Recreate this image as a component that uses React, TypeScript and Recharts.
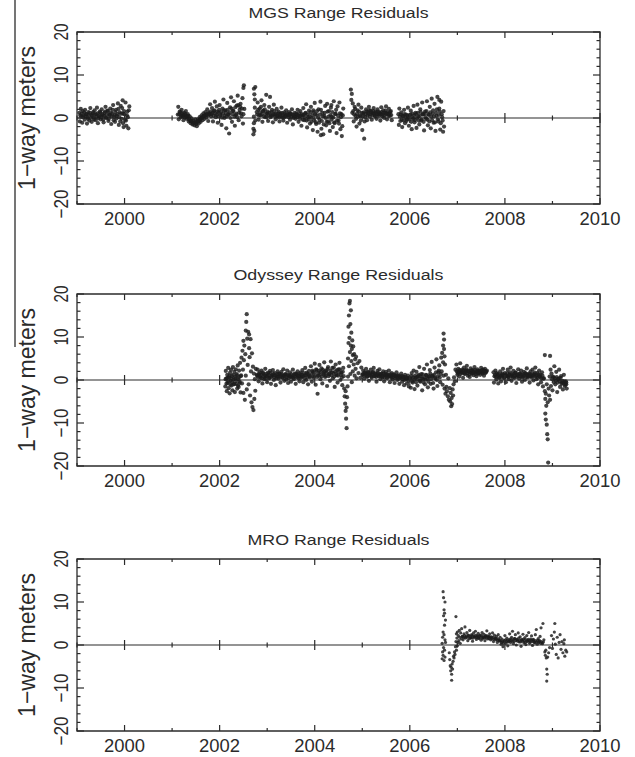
import React from 'react';
import { ScatterChart, Scatter, XAxis, YAxis, ReferenceLine, ReferenceArea } from 'recharts';

type Pt = [number, number];

// tick values
const years = [1999, 2000, 2001, 2002, 2003, 2004, 2005, 2006, 2007, 2008, 2009, 2010];
const yTicks = [-20, -18, -16, -14, -12, -10, -8, -6, -4, -2, 0, 2, 4, 6, 8, 10, 12, 14, 16, 18, 20];

// MGS residuals [year, metres] - scattered points
const mgsSpread: Pt[] = [
  [1999.05,1.2],[1999.06,-0.8],[1999.08,2.1],[1999.09,0.3],[1999.11,-1.1],[1999.12,1.6],[1999.14,0.5],[1999.16,-0.4],[1999.17,1.9],[1999.19,0.9],
  [1999.21,-1.3],[1999.22,0.2],[1999.24,1.4],[1999.26,-0.6],[1999.28,2.3],[1999.3,0.7],[1999.31,-0.9],[1999.33,1.1],[1999.35,0.1],[1999.37,1.8],
  [1999.39,-0.5],[1999.4,0.9],[1999.42,2.4],[1999.44,-1.2],[1999.46,0.4],[1999.48,1.5],[1999.5,-0.3],[1999.52,2.0],[1999.54,0.6],[1999.56,-1.0],
  [1999.58,1.2],[1999.6,2.6],[1999.62,0.0],[1999.64,1.7],[1999.66,-0.7],[1999.68,0.8],[1999.7,2.2],[1999.72,-1.4],[1999.74,1.0],[1999.76,3.0],
  [1999.78,0.3],[1999.8,-0.9],[1999.82,1.9],[1999.84,0.5],[1999.86,3.4],[1999.88,-1.6],[1999.9,1.3],[1999.92,2.8],[1999.94,-0.2],[1999.96,4.1],
  [1999.98,-2.1],[2000.0,0.9],[2000.02,3.6],[2000.04,-1.8],[2000.06,1.5],[2000.08,-2.4],[2000.1,2.7],[2000.07,0.2],[1999.97,1.0],[2000.03,-0.6],
  [2001.12,0.8],[2001.13,2.6],[2001.14,-0.3],[2001.16,1.5],[2001.18,0.2],[2001.2,1.9],[2001.22,0.6],[2001.24,-0.5],[2001.25,1.2],[2001.27,0.1],
  [2001.29,1.6],[2001.31,-0.2],[2001.33,0.9],[2001.35,-0.8],[2001.37,0.4],[2001.39,-1.2],[2001.41,-0.1],[2001.43,-1.5],[2001.45,-0.6],[2001.47,-1.7],
  [2001.49,-0.3],[2001.5,-1.1],[2001.52,-1.9],[2001.54,-0.4],[2001.56,-1.3],[2001.58,0.2],[2001.6,-0.9],[2001.62,0.6],[2001.64,-0.5],[2001.66,1.1],
  [2001.68,-0.2],[2001.7,1.4],[2001.72,0.1],[2001.74,2.0],[2001.76,-0.7],[2001.78,1.0],[2001.8,3.2],[2001.82,0.4],[2001.84,2.3],[2001.86,-0.8],
  [2001.88,1.6],[2001.9,3.8],[2001.92,0.2],[2001.94,2.7],[2001.96,-1.1],[2001.98,1.3],[2002.0,3.0],[2002.02,0.6],[2002.04,-1.6],[2002.06,2.2],
  [2002.08,4.3],[2002.1,0.0],[2002.12,1.8],[2002.14,-2.4],[2002.16,3.5],[2002.18,0.9],[2002.2,-3.6],[2002.22,2.5],[2002.24,4.8],[2002.26,-0.9],
  [2002.28,1.7],[2002.3,3.9],[2002.32,-1.8],[2002.34,0.7],[2002.36,2.9],[2002.38,5.2],[2002.4,-0.5],[2002.42,1.9],[2002.44,3.3],[2002.46,0.4],
  [2002.48,4.6],[2002.5,7.0],[2002.51,7.6],[2002.52,2.1],[2002.49,-1.3],[2002.45,1.1],
  [2002.71,-3.8],[2002.71,-2.5],[2002.72,-1.2],[2002.72,0.3],[2002.72,6.8],[2002.73,5.5],[2002.73,-3.0],[2002.74,2.4],[2002.74,4.3],[2002.75,-0.6],[2002.75,7.2],
  [2002.78,1.4],[2002.8,3.6],[2002.82,-0.4],[2002.84,2.2],[2002.86,0.6],[2002.88,4.1],[2002.9,-0.9],[2002.92,1.7],[2002.94,3.0],[2002.96,0.2],
  [2002.98,5.4],[2003.0,1.1],[2003.02,-0.7],[2003.04,2.6],[2003.06,4.9],[2003.08,0.5],[2003.1,1.9],[2003.12,-1.0],[2003.14,3.1],[2003.16,0.8],
  [2003.18,-0.3],[2003.2,2.1],[2003.22,0.4],[2003.24,1.5],[2003.26,-0.8],[2003.28,1.0],[2003.3,2.4],[2003.32,0.1],[2003.34,-0.6],[2003.36,1.3],
  [2003.38,0.5],[2003.4,1.8],[2003.42,-1.1],[2003.44,0.7],[2003.46,1.4],[2003.48,-0.4],[2003.5,0.9],[2003.52,2.0],[2003.54,-1.5],[2003.56,0.3],
  [2003.58,1.2],[2003.6,-0.2],[2003.62,0.8],[2003.64,1.9],[2003.66,-0.9],[2003.68,0.4],[2003.7,1.6],[2003.72,-1.8],[2003.74,0.6],[2003.76,2.3],
  [2003.78,-0.5],[2003.8,1.1],[2003.82,3.2],[2003.84,-2.2],[2003.86,0.2],[2003.88,1.7],[2003.9,-1.3],[2003.92,2.6],[2003.94,0.0],[2003.96,-2.8],
  [2003.98,1.4],[2004.0,3.5],[2004.02,-1.0],[2004.04,0.7],[2004.06,-3.2],[2004.08,2.0],[2004.1,-0.4],[2004.12,3.8],[2004.14,-2.5],[2004.16,1.2],
  [2004.18,-3.8],[2004.2,0.5],[2004.22,2.8],[2004.24,-1.7],[2004.26,3.3],[2004.28,-0.8],[2004.3,1.6],[2004.32,-3.0],[2004.34,2.4],[2004.36,0.3],
  [2004.38,-2.1],[2004.4,3.9],[2004.42,-1.2],[2004.44,1.0],[2004.46,-3.5],[2004.48,2.7],[2004.5,-0.6],[2004.52,3.6],[2004.54,-2.6],[2004.56,0.9],
  [2004.58,-1.9],[2004.6,2.2],[2004.57,-4.2],[2004.13,-4.0],[2004.35,3.0],
  [2004.76,6.6],[2004.77,4.2],[2004.78,5.6],[2004.79,1.2],[2004.8,3.4],[2004.82,-0.8],[2004.84,2.6],[2004.86,0.5],[2004.88,-2.0],[2004.9,1.8],
  [2004.92,3.1],[2004.94,-1.3],[2004.96,0.4],[2004.98,2.4],[2005.0,-2.8],[2005.02,1.0],[2005.04,-4.8],[2005.06,0.2],[2005.08,2.0],[2005.1,-0.5],
  [2005.12,1.4],[2005.14,2.6],[2005.16,0.3],[2005.18,1.7],[2005.2,-0.4],[2005.22,1.1],[2005.24,2.3],[2005.26,0.6],[2005.28,1.5],[2005.3,-0.2],
  [2005.32,2.0],[2005.34,0.8],[2005.36,1.3],[2005.38,-0.6],[2005.4,2.5],[2005.42,0.4],[2005.44,1.8],[2005.46,0.0],[2005.48,1.2],[2005.5,2.7],
  [2005.52,-0.3],[2005.54,1.0],[2005.56,2.1],[2005.58,0.5],[2005.6,1.6],[2005.62,-0.5],
  [2005.76,0.9],[2005.77,-1.6],[2005.78,2.2],[2005.8,-0.7],[2005.82,1.3],[2005.84,-2.1],[2005.86,0.4],[2005.88,1.9],[2005.9,-1.2],[2005.92,0.8],
  [2005.94,-0.3],[2005.96,2.4],[2005.98,-1.8],[2006.0,0.6],[2006.02,1.7],[2006.04,-2.6],[2006.06,0.1],[2006.08,2.8],[2006.1,-1.0],[2006.12,1.2],
  [2006.14,-2.3],[2006.16,3.1],[2006.18,0.3],[2006.2,-1.5],[2006.22,2.0],[2006.24,-0.6],[2006.26,3.6],[2006.28,0.9],[2006.3,-2.9],[2006.32,1.5],
  [2006.34,-0.2],[2006.36,3.9],[2006.38,-1.7],[2006.4,0.7],[2006.42,2.6],[2006.44,-2.4],[2006.46,4.5],[2006.48,1.0],[2006.5,-1.1],[2006.52,3.3],
  [2006.54,-3.0],[2006.56,0.5],[2006.58,4.9],[2006.6,-0.8],[2006.62,2.2],[2006.64,-2.7],[2006.66,3.8],[2006.68,0.2],[2006.7,-3.2],[2006.71,1.6],
  [2006.72,-2.0],[2006.62,4.2],
];

// MGS residuals [year, metres] - dense core of each pass
const mgsCore: Pt[] = [
  [1999.07,0.6],[1999.1,1.0],[1999.13,0.2],[1999.15,1.3],[1999.18,0.4],[1999.2,0.9],[1999.23,-0.2],[1999.25,0.7],[1999.27,1.2],[1999.29,0.0],
  [1999.32,0.5],[1999.34,1.4],[1999.36,-0.3],[1999.38,0.8],[1999.41,0.3],[1999.43,1.1],[1999.45,-0.1],[1999.47,0.6],[1999.49,1.3],[1999.51,0.2],
  [1999.53,0.9],[1999.55,-0.4],[1999.57,0.5],[1999.59,1.5],[1999.61,0.1],[1999.63,0.8],[1999.65,1.6],[1999.67,-0.2],[1999.69,0.6],[1999.71,1.2],
  [1999.73,0.3],[1999.75,1.9],[1999.77,-0.5],[1999.79,0.7],[1999.81,1.4],[1999.83,-0.1],[1999.85,0.9],[1999.87,2.1],[1999.89,0.2],[1999.91,-0.8],
  [1999.93,1.0],[1999.95,2.3],[1999.97,-1.2],[1999.99,1.6],[2000.01,-0.4],[2000.05,0.6],[2000.09,1.8],
  [2001.15,0.9],[2001.17,1.3],[2001.19,0.5],[2001.21,1.1],[2001.23,0.3],[2001.26,0.7],[2001.28,0.9],[2001.3,0.4],[2001.32,0.2],[2001.34,0.5],
  [2001.36,-0.3],[2001.38,-0.6],[2001.4,-0.8],[2001.42,-0.9],[2001.44,-1.1],[2001.46,-1.2],[2001.48,-1.0],[2001.51,-1.4],[2001.53,-0.9],[2001.55,-0.8],
  [2001.57,-0.6],[2001.59,-0.3],[2001.61,-0.1],[2001.63,0.1],[2001.65,0.3],[2001.67,0.5],[2001.69,0.6],[2001.71,0.7],[2001.73,0.9],[2001.75,0.6],
  [2001.77,1.2],[2001.79,0.8],[2001.81,1.5],[2001.83,0.9],[2001.85,1.2],[2001.87,0.5],[2001.89,1.8],[2001.91,1.1],[2001.93,0.7],[2001.95,1.5],
  [2001.97,0.4],[2001.99,1.9],[2002.01,0.8],[2002.03,1.4],[2002.05,0.1],[2002.07,1.0],[2002.09,1.8],[2002.11,0.5],[2002.13,1.2],[2002.15,0.3],
  [2002.17,1.9],[2002.19,0.7],[2002.21,1.3],[2002.23,0.0],[2002.25,2.2],[2002.27,0.9],[2002.29,1.6],[2002.31,0.3],[2002.33,2.5],[2002.35,1.0],
  [2002.37,0.2],[2002.39,3.0],[2002.41,1.2],[2002.43,2.6],[2002.47,2.2],[2002.5,0.9],
  [2002.79,0.8],[2002.81,1.9],[2002.83,0.6],[2002.85,1.3],[2002.87,2.6],[2002.89,0.9],[2002.91,1.6],[2002.93,0.4],[2002.95,2.0],[2002.97,1.1],
  [2002.99,0.3],[2003.01,1.5],[2003.03,0.7],[2003.05,1.2],[2003.07,0.2],[2003.09,1.4],[2003.11,0.6],[2003.13,0.9],[2003.15,1.6],[2003.17,0.3],
  [2003.19,1.0],[2003.21,0.5],[2003.23,1.1],[2003.25,0.2],[2003.27,0.8],[2003.29,0.4],[2003.31,1.2],[2003.33,0.6],[2003.35,0.1],[2003.37,0.9],
  [2003.39,0.3],[2003.41,0.7],[2003.43,1.0],[2003.45,0.2],[2003.47,0.6],[2003.49,1.1],[2003.51,0.3],[2003.53,0.8],[2003.55,0.0],[2003.57,0.7],
  [2003.59,0.4],[2003.61,1.0],[2003.63,0.2],[2003.65,0.6],[2003.67,1.1],[2003.69,-0.2],[2003.71,0.5],[2003.73,0.9],[2003.75,-0.4],[2003.77,0.7],
  [2003.79,0.2],[2003.81,1.2],[2003.83,-0.6],[2003.85,0.8],[2003.87,-0.3],[2003.89,0.4],[2003.91,1.3],[2003.93,-0.9],[2003.95,0.6],[2003.97,1.8],
  [2003.99,-0.5],[2004.01,0.9],[2004.03,-1.4],[2004.05,1.6],[2004.07,0.1],[2004.09,-1.1],[2004.11,0.8],[2004.13,1.9],[2004.15,-0.7],[2004.17,0.4],
  [2004.19,-1.5],[2004.21,1.2],[2004.23,0.0],[2004.25,-0.9],[2004.27,1.5],[2004.29,0.3],[2004.31,-1.2],[2004.33,0.7],[2004.35,-0.4],[2004.37,1.4],
  [2004.39,0.1],[2004.41,-1.0],[2004.43,0.9],[2004.45,1.9],[2004.47,-0.6],[2004.49,0.5],[2004.51,-1.3],[2004.53,1.1],[2004.55,0.2],[2004.59,0.6],
  [2004.81,1.6],[2004.83,0.8],[2004.85,2.1],[2004.87,-0.2],[2004.89,1.0],[2004.91,0.3],[2004.93,1.5],[2004.95,0.6],[2004.97,-0.6],[2004.99,1.2],
  [2005.01,0.4],[2005.03,1.3],[2005.05,-0.8],[2005.07,0.9],[2005.09,1.5],[2005.11,0.6],[2005.13,1.0],[2005.15,1.8],[2005.17,0.9],[2005.19,1.3],
  [2005.21,0.7],[2005.23,1.6],[2005.25,1.0],[2005.27,0.4],[2005.29,1.2],[2005.31,0.8],[2005.33,1.5],[2005.35,0.5],[2005.37,1.1],[2005.39,0.9],
  [2005.41,1.4],[2005.43,0.7],[2005.45,1.2],[2005.47,0.6],[2005.49,1.7],[2005.51,0.9],[2005.53,1.3],[2005.55,0.5],[2005.57,1.0],[2005.59,1.4],
  [2005.61,0.7],
  [2005.79,0.3],[2005.81,0.8],[2005.83,-0.4],[2005.85,0.5],[2005.87,-0.6],[2005.89,0.9],[2005.91,0.1],[2005.93,-0.7],[2005.95,0.6],[2005.97,0.2],
  [2005.99,-0.3],[2006.01,0.8],[2006.03,-0.9],[2006.05,1.0],[2006.07,-0.2],[2006.09,0.6],[2006.11,-0.5],[2006.13,0.9],[2006.15,0.0],[2006.17,1.2],
  [2006.19,-0.6],[2006.21,0.5],[2006.23,1.4],[2006.25,-0.3],[2006.27,0.8],[2006.29,-0.9],[2006.31,1.0],[2006.33,0.2],[2006.35,1.6],[2006.37,-0.4],
  [2006.39,0.9],[2006.41,-0.8],[2006.43,1.3],[2006.45,0.3],[2006.47,-0.5],[2006.49,1.8],[2006.51,0.4],[2006.53,-1.0],[2006.55,1.2],[2006.57,2.0],
  [2006.59,-0.3],[2006.61,0.7],[2006.63,1.5],[2006.65,-1.2],[2006.67,0.9],[2006.69,-0.6],
];

// Odyssey residuals [year, metres] - scattered points
const odysseySpread: Pt[] = [
  [2002.12,-1.5],[2002.13,2.1],[2002.14,0.3],[2002.15,-2.6],[2002.16,1.2],[2002.17,-0.7],[2002.18,2.8],[2002.19,-1.9],[2002.2,0.6],[2002.21,-3.1],
  [2002.22,1.7],[2002.23,-0.2],[2002.24,2.4],[2002.25,-1.3],[2002.26,0.9],[2002.27,-2.4],[2002.28,3.0],[2002.29,0.1],[2002.3,-1.0],[2002.31,1.9],
  [2002.32,-2.8],[2002.33,0.7],[2002.34,2.5],[2002.35,-0.9],[2002.36,1.4],[2002.37,-2.0],[2002.38,3.4],[2002.39,0.2],[2002.4,-1.6],[2002.41,2.2],
  [2002.42,-0.4],[2002.43,4.0],[2002.44,-2.9],[2002.45,1.1],
  [2002.46,5.2],[2002.47,-0.8],[2002.48,6.8],[2002.49,2.4],[2002.5,9.1],[2002.5,-3.0],[2002.51,4.6],[2002.52,8.0],[2002.53,-4.6],[2002.54,6.0],
  [2002.55,11.5],[2002.55,1.0],[2002.56,13.5],[2002.57,15.3],[2002.57,-2.2],[2002.58,9.6],[2002.59,3.5],[2002.6,11.2],[2002.61,-1.0],[2002.62,10.6],
  [2002.62,7.4],[2002.63,5.3],[2002.64,-3.6],[2002.65,9.5],[2002.66,2.0],[2002.67,-5.2],[2002.68,6.2],[2002.69,-6.3],[2002.7,3.1],[2002.71,-7.0],
  [2002.72,1.5],[2002.73,-4.4],[2002.74,0.2],[2002.75,-2.5],[2002.76,2.6],
  [2002.78,1.2],[2002.8,2.4],[2002.82,-0.3],[2002.84,1.8],[2002.86,0.5],[2002.88,2.2],[2002.9,-0.8],[2002.92,1.5],[2002.94,0.2],[2002.96,2.6],
  [2002.98,0.9],[2003.0,-0.5],[2003.02,1.7],[2003.04,0.4],[2003.06,2.1],[2003.08,-0.9],[2003.1,1.1],[2003.12,2.3],[2003.14,0.0],[2003.16,1.6],
  [2003.18,-1.2],[2003.2,0.8],[2003.22,2.0],[2003.24,0.3],[2003.26,1.4],[2003.28,-0.6],[2003.3,1.9],[2003.32,0.6],[2003.34,2.5],[2003.36,-0.2],
  [2003.38,1.3],[2003.4,0.1],[2003.42,2.2],[2003.44,-0.7],[2003.46,1.0],[2003.48,1.8],[2003.5,-0.4],[2003.52,0.7],[2003.54,2.4],[2003.56,0.2],
  [2003.58,1.5],[2003.6,-0.9],[2003.62,1.2],[2003.64,2.0],[2003.66,0.4],[2003.68,-0.3],[2003.7,1.7],[2003.72,0.8],[2003.74,2.3],[2003.76,-0.5],
  [2003.78,1.1],[2003.8,2.8],[2003.82,0.0],[2003.84,1.5],[2003.86,-1.0],[2003.88,2.1],[2003.9,0.6],
  [2003.92,3.2],[2003.94,-0.4],[2003.96,1.9],[2003.98,0.5],[2004.0,3.8],[2004.02,-1.1],[2004.04,2.3],[2004.06,-3.2],[2004.08,1.0],[2004.1,3.5],
  [2004.12,0.2],[2004.14,2.7],[2004.16,-0.8],[2004.18,1.6],[2004.2,4.1],[2004.22,0.7],[2004.24,2.2],[2004.26,-1.4],[2004.28,3.0],[2004.3,1.3],
  [2004.32,-0.2],[2004.34,4.3],[2004.36,1.8],[2004.38,0.4],[2004.4,2.9],[2004.42,-1.6],[2004.44,3.6],[2004.46,1.1],[2004.48,-0.6],[2004.5,2.5],
  [2004.52,4.0],[2004.54,0.0],[2004.56,1.7],[2004.58,-1.2],[2004.6,2.8],[2004.62,-2.0],
  [2004.63,-3.8],[2004.64,-5.5],[2004.65,-7.2],[2004.65,-2.6],[2004.66,-9.0],[2004.67,-11.2],[2004.67,-6.4],[2004.68,-4.0],[2004.69,-1.5],[2004.7,0.8],
  [2004.7,5.0],[2004.71,8.6],[2004.71,12.4],[2004.72,15.0],[2004.72,3.2],[2004.73,17.8],[2004.73,9.8],[2004.74,18.4],[2004.74,6.5],[2004.75,13.0],
  [2004.75,1.4],[2004.76,16.2],[2004.76,8.0],[2004.77,11.0],[2004.77,4.4],[2004.78,7.2],[2004.78,-0.5],[2004.79,9.2],[2004.8,5.8],[2004.8,2.0],
  [2004.81,7.8],[2004.82,3.6],[2004.83,6.0],[2004.84,1.0],[2004.85,4.8],[2004.86,2.6],[2004.87,5.4],[2004.88,0.4],[2004.9,3.9],[2004.92,1.6],
  [2004.94,4.4],[2004.96,0.5],[2004.98,2.9],[2005.0,1.2],
  [2005.02,2.2],[2005.04,0.3],[2005.06,1.6],[2005.08,2.6],[2005.1,0.7],[2005.12,1.9],[2005.14,-0.2],[2005.16,1.3],[2005.18,2.4],[2005.2,0.5],
  [2005.22,1.7],[2005.24,2.8],[2005.26,0.9],[2005.28,1.4],[2005.3,-0.4],[2005.32,2.1],[2005.34,1.0],[2005.36,2.5],[2005.38,0.2],[2005.4,1.5],
  [2005.42,0.6],[2005.44,2.0],[2005.46,-0.3],[2005.48,1.2],[2005.5,1.9],[2005.52,0.4],[2005.54,1.1],[2005.56,2.2],[2005.58,-0.5],[2005.6,0.8],
  [2005.62,1.6],[2005.64,0.1],[2005.66,1.3],[2005.68,-0.7],[2005.7,0.9],[2005.72,1.8],[2005.74,0.0],[2005.76,1.1],[2005.78,-0.9],[2005.8,0.6],
  [2005.82,1.5],[2005.84,-0.4],[2005.86,0.8],[2005.88,-1.2],[2005.9,1.2],[2005.92,0.3],[2005.94,-0.8],[2005.96,1.0],[2005.98,-1.5],[2006.0,0.4],
  [2006.02,-1.8],[2006.04,1.6],[2006.06,-0.6],[2006.08,2.2],[2006.1,-2.1],[2006.12,0.5],[2006.14,1.9],[2006.16,-1.3],[2006.18,0.9],[2006.2,3.0],
  [2006.22,-0.4],[2006.24,1.4],[2006.26,-2.4],[2006.28,0.2],[2006.3,2.6],[2006.32,-1.0],[2006.34,1.2],[2006.36,3.6],[2006.38,-1.7],[2006.4,0.7],
  [2006.42,2.3],[2006.44,-0.9],[2006.46,4.2],[2006.48,1.0],[2006.5,-2.0],[2006.52,2.9],[2006.54,0.3],[2006.56,4.8],[2006.58,-1.4],[2006.6,1.8],
  [2006.62,3.4],[2006.64,-0.5],[2006.66,5.2],
  [2006.67,2.0],[2006.68,6.3],[2006.69,-1.1],[2006.7,8.0],[2006.7,4.1],[2006.71,10.8],[2006.71,1.0],[2006.72,9.4],[2006.72,7.2],[2006.73,5.5],
  [2006.73,-2.0],[2006.74,3.6],[2006.75,-3.2],[2006.76,1.2],[2006.77,-1.6],[2006.78,-2.6],[2006.8,-3.8],[2006.81,0.4],[2006.82,-4.6],[2006.84,-1.9],
  [2006.85,-5.0],[2006.86,-3.0],[2006.87,-6.1],[2006.88,-4.2],[2006.89,-5.6],[2006.9,-2.2],[2006.91,-3.6],[2006.92,-1.0],[2006.93,0.6],[2006.95,-0.3],
  [2006.96,2.4],
  [2006.98,3.6],[2007.0,1.2],[2007.02,2.6],[2007.04,0.8],[2007.06,3.9],[2007.08,1.7],[2007.1,2.4],[2007.12,0.5],[2007.14,2.9],[2007.16,1.4],
  [2007.18,2.2],[2007.2,3.3],[2007.22,1.0],[2007.24,2.0],[2007.26,0.7],[2007.28,2.7],[2007.3,1.6],[2007.32,2.3],[2007.34,1.1],[2007.36,3.0],
  [2007.38,1.8],[2007.4,0.9],[2007.42,2.5],[2007.44,1.5],[2007.46,2.1],[2007.48,1.2],[2007.5,2.8],[2007.52,1.7],[2007.54,2.4],[2007.56,1.0],
  [2007.58,2.6],[2007.6,1.9],[2007.62,2.2],
  [2007.76,1.8],[2007.77,-0.6],[2007.78,0.9],[2007.8,2.2],[2007.82,0.1],[2007.84,1.4],[2007.86,-0.8],[2007.88,0.6],[2007.9,2.0],[2007.92,-0.3],
  [2007.94,1.2],[2007.96,2.6],[2007.98,0.4],[2008.0,1.6],[2008.02,-0.5],[2008.04,0.9],[2008.06,2.4],[2008.08,0.2],[2008.1,1.3],[2008.12,2.9],
  [2008.14,-0.2],[2008.16,1.0],[2008.18,2.1],[2008.2,0.5],[2008.22,1.7],[2008.24,-0.7],[2008.26,1.1],[2008.28,2.5],[2008.3,0.3],[2008.32,1.5],
  [2008.34,2.2],[2008.36,-0.4],[2008.38,0.8],[2008.4,1.9],[2008.42,0.0],[2008.44,1.4],[2008.46,2.7],[2008.48,0.6],[2008.5,1.2],[2008.52,-0.6],
  [2008.54,2.0],[2008.56,0.9],[2008.58,2.4],[2008.6,-0.1],[2008.62,1.3],[2008.64,2.9],[2008.66,0.2],[2008.68,1.6],[2008.7,-1.0],[2008.72,2.2],
  [2008.74,0.7],[2008.76,-0.5],[2008.78,1.8],[2008.8,-1.5],[2008.82,0.4],
  [2008.84,5.8],[2008.84,-2.6],[2008.85,-4.4],[2008.85,-7.8],[2008.86,-9.2],[2008.86,-3.2],[2008.87,-6.0],[2008.88,-10.4],[2008.88,-1.0],[2008.89,-12.6],
  [2008.9,-13.8],[2008.9,-5.2],[2008.91,-19.2],[2008.92,-2.0],[2008.93,-3.6],[2008.94,0.8],[2008.95,5.6],[2008.95,-4.6],[2008.96,2.4],[2008.97,-1.4],
  [2008.98,1.5],[2009.0,-2.4],[2009.02,0.6],[2009.04,3.2],[2009.06,-1.0],[2009.08,1.9],[2009.1,-2.8],[2009.12,0.2],[2009.14,2.4],[2009.16,-1.6],
  [2009.18,0.9],[2009.2,-0.6],[2009.22,-2.2],[2009.24,1.2],[2009.26,-1.4],[2009.28,-0.3],[2009.3,-2.0],[2009.29,-1.0],
];

// Odyssey residuals [year, metres] - dense core of each pass
const odysseyCore: Pt[] = [
  [2002.125,0.2],[2002.145,-0.8],[2002.165,0.5],[2002.185,-0.3],[2002.205,1.0],[2002.225,-1.1],[2002.245,0.4],[2002.265,-0.5],[2002.285,1.2],[2002.305,-0.9],
  [2002.325,0.3],[2002.345,-0.2],[2002.365,1.1],[2002.385,-1.3],[2002.405,0.6],[2002.425,-0.7],[2002.445,0.9],
  [2002.79,1.0],[2002.81,0.6],[2002.83,1.4],[2002.85,0.9],[2002.87,1.2],[2002.89,0.4],[2002.91,1.7],[2002.93,0.8],[2002.95,1.1],[2002.97,0.3],
  [2002.99,1.5],[2003.01,0.9],[2003.03,1.2],[2003.05,0.5],[2003.07,1.6],[2003.09,0.7],[2003.11,1.0],[2003.13,1.4],[2003.15,0.6],[2003.17,1.1],
  [2003.19,0.4],[2003.21,1.3],[2003.23,0.8],[2003.25,1.5],[2003.27,0.7],[2003.29,1.0],[2003.31,1.3],[2003.33,0.5],[2003.35,1.1],[2003.37,0.8],
  [2003.39,1.4],[2003.41,0.6],[2003.43,1.2],[2003.45,0.4],[2003.47,1.0],[2003.49,0.7],[2003.51,1.3],[2003.53,0.9],[2003.55,0.5],[2003.57,1.2],
  [2003.59,0.8],[2003.61,1.5],[2003.63,0.6],[2003.65,1.1],[2003.67,0.9],[2003.69,1.4],[2003.71,0.5],[2003.73,1.2],[2003.75,0.8],[2003.77,1.6],
  [2003.79,0.4],[2003.81,1.1],[2003.83,1.7],[2003.85,0.7],[2003.87,1.3],[2003.89,0.9],
  [2003.93,1.4],[2003.95,2.2],[2003.97,0.9],[2003.99,1.8],[2004.01,1.1],[2004.03,2.5],[2004.05,0.7],[2004.07,1.6],[2004.09,2.1],[2004.11,1.2],
  [2004.13,1.9],[2004.15,0.8],[2004.17,2.4],[2004.19,1.3],[2004.21,2.0],[2004.23,1.0],[2004.25,1.7],[2004.27,2.6],[2004.29,0.9],[2004.31,1.5],
  [2004.33,2.2],[2004.35,1.1],[2004.37,2.8],[2004.39,1.6],[2004.41,0.8],[2004.43,2.0],[2004.45,1.4],[2004.47,2.3],[2004.49,1.0],[2004.51,1.8],
  [2004.53,2.5],[2004.55,1.2],[2004.57,0.6],[2004.59,1.9],[2004.61,0.9],
  [2005.01,1.4],[2005.03,1.0],[2005.05,1.8],[2005.07,1.2],[2005.09,1.5],[2005.11,0.9],[2005.13,1.7],[2005.15,1.1],[2005.17,1.6],[2005.19,0.8],
  [2005.21,1.3],[2005.23,1.9],[2005.25,1.0],[2005.27,1.5],[2005.29,0.7],[2005.31,1.2],[2005.33,1.6],[2005.35,0.9],[2005.37,1.4],[2005.39,1.0],
  [2005.41,1.3],[2005.43,0.8],[2005.45,1.5],[2005.47,0.6],[2005.49,1.1],[2005.51,1.4],[2005.53,0.7],[2005.55,1.2],[2005.57,0.9],[2005.59,1.3],
  [2005.61,0.5],[2005.63,1.0],[2005.65,0.7],[2005.67,1.2],[2005.69,0.4],[2005.71,0.9],[2005.73,0.6],[2005.75,1.0],[2005.77,0.3],[2005.79,0.8],
  [2005.81,0.5],[2005.83,0.9],[2005.85,0.2],[2005.87,0.6],[2005.89,0.0],[2005.91,0.7],[2005.93,0.3],[2005.95,0.5],[2005.97,-0.2],[2005.99,0.4],
  [2006.01,0.3],[2006.03,0.9],[2006.05,-0.3],[2006.07,0.6],[2006.09,0.1],[2006.11,1.0],[2006.13,-0.5],[2006.15,0.7],[2006.17,0.2],[2006.19,1.2],
  [2006.21,-0.2],[2006.23,0.8],[2006.25,0.4],[2006.27,1.3],[2006.29,-0.6],[2006.31,0.6],[2006.33,0.1],[2006.35,1.1],[2006.37,0.3],[2006.39,-0.4],
  [2006.41,0.9],[2006.43,1.5],[2006.45,0.2],[2006.47,0.8],[2006.49,-0.7],[2006.51,1.2],[2006.53,0.5],[2006.55,1.8],[2006.57,0.0],[2006.59,0.9],
  [2006.61,2.2],[2006.63,0.6],[2006.65,1.4],
  [2006.99,2.0],[2007.01,1.6],[2007.03,1.9],[2007.05,2.3],[2007.07,1.4],[2007.09,2.0],[2007.11,1.7],[2007.13,2.2],[2007.15,1.5],[2007.17,1.9],
  [2007.19,2.4],[2007.21,1.6],[2007.23,2.1],[2007.25,1.3],[2007.27,1.8],[2007.29,2.2],[2007.31,1.5],[2007.33,2.0],[2007.35,1.7],[2007.37,2.3],
  [2007.39,1.4],[2007.41,1.9],[2007.43,2.1],[2007.45,1.6],[2007.47,2.0],[2007.49,1.8],[2007.51,2.2],[2007.53,1.5],[2007.55,1.9],[2007.57,2.1],
  [2007.59,1.6],[2007.61,1.9],
  [2007.79,1.2],[2007.81,0.7],[2007.83,1.6],[2007.85,0.9],[2007.87,1.3],[2007.89,0.5],[2007.91,1.1],[2007.93,0.8],[2007.95,1.5],[2007.97,1.0],
  [2007.99,0.6],[2008.01,1.2],[2008.03,0.9],[2008.05,1.6],[2008.07,0.7],[2008.09,1.1],[2008.11,1.8],[2008.13,0.8],[2008.15,1.3],[2008.17,0.6],
  [2008.19,1.4],[2008.21,1.0],[2008.23,1.7],[2008.25,0.7],[2008.27,1.2],[2008.29,0.9],[2008.31,1.5],[2008.33,0.8],[2008.35,1.2],[2008.37,0.6],
  [2008.39,1.4],[2008.41,1.0],[2008.43,1.6],[2008.45,0.7],[2008.47,1.3],[2008.49,0.9],[2008.51,1.5],[2008.53,0.8],[2008.55,1.2],[2008.57,0.6],
  [2008.59,1.4],[2008.61,1.0],[2008.63,1.7],[2008.65,0.8],[2008.67,1.1],[2008.69,0.5],[2008.71,1.3],[2008.73,0.9],[2008.75,1.2],[2008.77,0.4],
  [2008.79,1.0],[2008.81,0.3],
  [2008.99,0.2],[2009.01,0.8],[2009.03,-0.5],[2009.05,0.4],[2009.07,-0.2],[2009.09,0.7],[2009.11,-0.6],[2009.13,0.3],[2009.15,-0.3],[2009.17,0.5],
  [2009.19,-0.9],[2009.21,-0.2],[2009.23,-0.8],[2009.25,-0.4],[2009.27,-1.1],[2009.29,-0.6],
];

// MRO residuals [year, metres] - scattered points
const mroSpread: Pt[] = [
  [2006.68,-3.2],[2006.68,0.4],[2006.69,1.8],[2006.69,-1.6],[2006.7,3.0],[2006.7,-2.4],[2006.7,12.4],[2006.71,6.8],[2006.71,-0.6],[2006.71,11.0],
  [2006.72,8.2],[2006.72,2.4],[2006.72,-3.6],[2006.73,7.4],[2006.73,4.6],[2006.73,-1.2],[2006.74,10.0],[2006.74,1.2],[2006.74,-2.8],[2006.75,0.6],
  [2006.75,5.8],
  [2006.83,-1.8],[2006.84,-3.4],[2006.85,-4.8],[2006.86,-6.0],[2006.87,-5.2],[2006.88,-8.2],[2006.88,-6.8],[2006.89,-4.4],[2006.9,-5.6],[2006.91,-3.8],
  [2006.92,-2.6],[2006.93,-3.0],[2006.94,-1.6],[2006.95,-2.2],[2006.96,-0.4],
  [2006.97,6.6],[2006.97,0.8],[2006.98,2.6],[2006.98,-1.2],[2006.99,1.6],[2007.0,-0.2],[2007.0,3.0],[2007.01,0.6],[2007.02,2.2],[2007.03,1.0],
  [2007.04,3.4],[2007.05,1.8],[2007.06,0.4],[2007.07,2.8],[2007.08,1.4],[2007.09,3.8],[2007.1,2.0],
  [2007.12,1.2],[2007.14,2.6],[2007.16,4.2],[2007.18,1.8],[2007.2,2.9],[2007.22,1.0],[2007.24,2.2],[2007.26,3.4],[2007.28,1.6],[2007.3,2.4],
  [2007.32,0.9],[2007.34,2.8],[2007.36,1.9],[2007.38,3.2],[2007.4,1.3],[2007.42,2.1],[2007.44,2.7],[2007.46,1.5],[2007.48,2.3],[2007.5,1.1],
  [2007.52,2.9],[2007.54,1.7],[2007.56,2.5],[2007.58,1.0],[2007.6,2.2],[2007.62,3.3],[2007.64,1.4],[2007.66,2.0],[2007.68,2.6],[2007.7,1.2],
  [2007.72,1.9],[2007.74,2.8],[2007.76,0.8],[2007.78,2.3],[2007.8,1.5],[2007.82,2.0],[2007.84,0.6],[2007.86,2.4],[2007.88,1.1],[2007.9,1.8],
  [2007.92,0.2],[2007.94,1.4],[2007.96,-0.4],[2007.98,1.0],[2008.0,2.2],[2008.02,0.4],[2008.04,1.6],[2008.06,-0.2],[2008.08,0.9],[2008.1,2.6],
  [2008.12,0.6],[2008.14,1.8],[2008.16,3.2],[2008.18,0.3],[2008.2,1.5],[2008.22,2.4],[2008.24,0.0],[2008.26,1.2],[2008.28,2.8],[2008.3,0.7],
  [2008.32,1.9],[2008.34,-0.3],[2008.36,1.1],[2008.38,2.5],[2008.4,0.5],[2008.42,1.7],[2008.44,0.1],[2008.46,2.2],[2008.48,1.0],[2008.5,2.9],
  [2008.52,0.4],[2008.54,1.4],[2008.56,2.1],[2008.58,-0.1],[2008.6,1.3],[2008.62,0.6],[2008.64,2.4],[2008.66,3.6],[2008.68,0.2],[2008.7,1.5],
  [2008.72,0.8],[2008.74,2.0],[2008.76,4.0],[2008.78,0.5],[2008.8,5.0],[2008.82,1.2],
  [2008.84,-1.6],[2008.85,-2.4],[2008.86,-1.2],[2008.87,-3.0],[2008.88,-5.6],[2008.88,-8.4],[2008.89,-6.8],[2008.9,-2.8],[2008.92,-1.8],[2008.94,-0.6],
  [2008.98,2.2],[2009.0,-0.8],[2009.02,1.4],[2009.04,3.0],[2009.05,5.0],[2009.06,0.2],[2009.08,-2.2],[2009.1,1.8],[2009.12,-3.0],[2009.14,0.6],
  [2009.16,2.4],[2009.18,-1.0],[2009.2,0.8],[2009.22,-1.8],[2009.24,0.3],[2009.26,-2.6],[2009.28,-1.2],[2009.3,-1.6],[2009.25,1.2],
];

// MRO residuals [year, metres] - dense core
const mroCore: Pt[] = [
  [2007.11,2.0],[2007.13,1.7],[2007.15,2.2],[2007.17,1.6],[2007.19,2.1],[2007.21,1.8],[2007.23,2.3],[2007.25,1.5],[2007.27,2.0],[2007.29,1.7],
  [2007.31,2.2],[2007.33,1.6],[2007.35,2.1],[2007.37,1.8],[2007.39,2.3],[2007.41,1.7],[2007.43,2.0],[2007.45,1.6],[2007.47,2.1],[2007.49,1.8],
  [2007.51,2.2],[2007.53,1.5],[2007.55,1.9],[2007.57,1.7],[2007.59,2.0],[2007.61,1.6],[2007.63,2.1],[2007.65,1.8],[2007.67,1.5],[2007.69,1.9],
  [2007.71,1.6],[2007.73,1.4],[2007.75,1.8],[2007.77,1.3],[2007.79,1.6],[2007.81,1.2],[2007.83,1.5],[2007.85,1.1],[2007.87,1.4],[2007.89,0.9],
  [2007.91,1.0],[2007.93,0.6],[2007.95,0.8],[2007.97,0.4],[2007.99,0.9],[2008.01,1.2],[2008.03,0.8],[2008.05,1.1],[2008.07,0.7],[2008.09,1.3],
  [2008.11,1.0],[2008.13,1.4],[2008.15,0.9],[2008.17,1.2],[2008.19,0.8],[2008.21,1.5],[2008.23,1.0],[2008.25,1.3],[2008.27,0.9],[2008.29,1.6],
  [2008.31,1.1],[2008.33,0.7],[2008.35,1.3],[2008.37,0.9],[2008.39,1.4],[2008.41,1.0],[2008.43,0.6],[2008.45,1.2],[2008.47,0.8],[2008.49,1.3],
  [2008.51,1.0],[2008.53,0.7],[2008.55,1.1],[2008.57,0.8],[2008.59,1.2],[2008.61,0.9],[2008.63,0.5],[2008.65,1.0],[2008.67,0.7],[2008.69,1.1],
  [2008.71,0.6],[2008.73,1.0],[2008.75,0.4],[2008.77,0.8],[2008.79,0.3],[2008.81,0.7],
];

const FONT = '"Liberation Sans", Arial, sans-serif';
const INK = '#2b2b2b';
const PLOT_LEFT = 77;
const PLOT_W = 523;
const PLOT_H = 172;
const Y_AXIS_W = 40;

const panels = [
  { title: 'MGS Range Residuals', titleLen: 180, points: [...mgsSpread, ...mgsCore], top: 0, height: 262, axisH: 30, bottom: 28, dot: 2.1 },
  { title: 'Odyssey Range Residuals', titleLen: 210, points: [...odysseySpread, ...odysseyCore], top: 262, height: 262, axisH: 30, bottom: 28, dot: 2.1 },
  { title: 'MRO Range Residuals', titleLen: 182, points: [...mroSpread, ...mroCore], top: 527, height: 230, axisH: 26, bottom: 0, dot: 1.6 },
];

const XTick = (props: any) => {
  const { x, y, payload } = props;
  const yr = payload.value as number;
  const major = yr % 2 === 0;
  const len = major ? 6 : 3;
  const zl = major ? 5 : 2.5;
  const zeroY = y - PLOT_H / 2;
  return (
    <g stroke={INK} strokeWidth={1.2}>
      <line x1={x} y1={y} x2={x} y2={y - len} />
      <line x1={x} y1={y - PLOT_H} x2={x} y2={y - PLOT_H + len} />
      <line x1={x} y1={zeroY - zl} x2={x} y2={zeroY + zl} />
      {major && (
        <text x={x} y={y + 21} textAnchor="middle" fontFamily={FONT} fontSize={17.5} fill={INK} stroke="none"
          textLength={41} lengthAdjust="spacingAndGlyphs">
          {yr}
        </text>
      )}
    </g>
  );
};

const YTick = (props: any) => {
  const { x, y, payload } = props;
  const v = payload.value as number;
  const major = v % 10 === 0;
  const len = major ? 7 : 3.5;
  const label = v < 0 ? `\u2212${-v}` : `${v}`;
  const tl = v === 0 ? 8.5 : v < 0 ? 29 : 17;
  const bx = x - 9;
  return (
    <g stroke={INK} strokeWidth={1.2}>
      <line x1={x} y1={y} x2={x + len} y2={y} />
      <line x1={x + PLOT_W} y1={y} x2={x + PLOT_W - len} y2={y} />
      {major && (
        <text x={bx} y={y} transform={`rotate(-90 ${bx} ${y})`} textAnchor="middle" fontFamily={FONT} fontSize={20}
          fill={INK} stroke="none" textLength={tl} lengthAdjust="spacingAndGlyphs">
          {label}
        </text>
      )}
    </g>
  );
};

const Panel = ({ p }: { p: (typeof panels)[number] }) => {
  const data = p.points.map(([t, v]) => ({ t, v }));
  const dot = (d: any) => <circle cx={d.cx} cy={d.cy} r={p.dot} fill="#1c1c1c" fillOpacity={0.82} />;
  return (
    <div style={{ position: 'absolute', left: 0, top: p.top }}>
      <ScatterChart width={635} height={p.height}
        margin={{ top: 32, right: 635 - PLOT_LEFT - PLOT_W, bottom: p.bottom, left: PLOT_LEFT - Y_AXIS_W }}>
        <XAxis type="number" dataKey="t" domain={[1999, 2010]} ticks={years} interval={0} height={p.axisH}
          axisLine={false} tickLine={false} tickSize={0} tickMargin={0} tick={XTick} />
        <YAxis type="number" dataKey="v" domain={[-20, 20]} ticks={yTicks} interval={0} width={Y_AXIS_W}
          axisLine={false} tickLine={false} tickSize={0} tickMargin={0} tick={YTick} allowDataOverflow />
        <ReferenceArea x1={1999} x2={2010} y1={-20} y2={20} fill="none" fillOpacity={0} stroke={INK} strokeWidth={1.3} />
        <ReferenceLine y={0} stroke={INK} strokeWidth={1.2} />
        <Scatter data={data} shape={dot} isAnimationActive={false} />
      </ScatterChart>
    </div>
  );
};

export default function App() {
  return (
    <div style={{ position: 'absolute', left: 0, top: 0, width: 635, height: 757, background: '#fff', overflow: 'hidden' }}>
      {panels.map((p) => (
        <Panel key={p.title} p={p} />
      ))}
      <svg width={635} height={757} style={{ position: 'absolute', left: 0, top: 0, pointerEvents: 'none' }}>
        <line x1={15} y1={0} x2={15} y2={347} stroke={INK} strokeWidth={1.3} />
        {panels.map((p) => {
          const cy = p.top + 32 + PLOT_H / 2;
          return (
            <g key={p.title} fill={INK} fontFamily={FONT}>
              <text x={PLOT_LEFT + PLOT_W / 2} y={p.top + 18} textAnchor="middle" fontSize={14}
                textLength={p.titleLen} lengthAdjust="spacingAndGlyphs">
                {p.title}
              </text>
              <text x={35} y={cy} transform={`rotate(-90 35 ${cy})`} textAnchor="middle" fontSize={23}>
                1{'\u2212'}way meters
              </text>
            </g>
          );
        })}
      </svg>
    </div>
  );
}
